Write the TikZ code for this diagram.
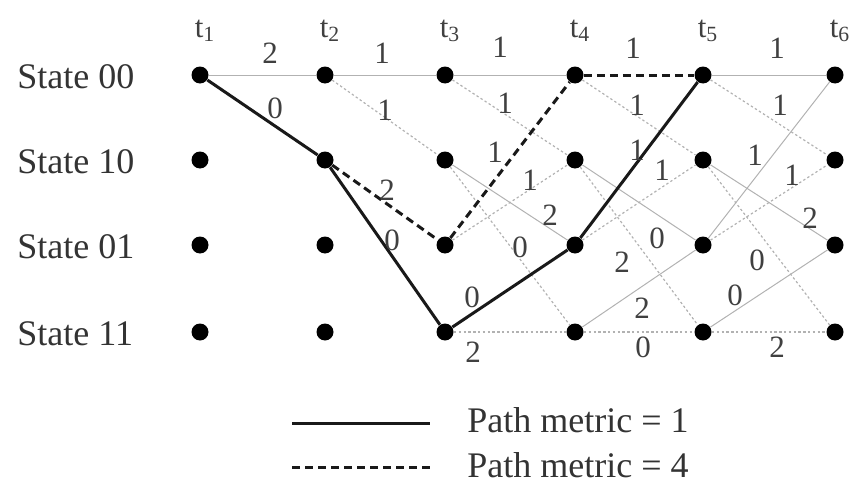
\documentclass[tikz,border=0pt]{standalone}
\usepackage{fontspec}
\setmainfont{Liberation Serif}
\usepackage{tikz}
\usetikzlibrary{positioning}

\begin{document}
\begin{tikzpicture}[
  x=0.5pt, y=-0.5pt,
  dot/.style={circle, fill=black, inner sep=0pt, minimum size=8.5pt},
  st/.style={anchor=west, inner sep=0pt, text=black!80, font=\fontsize{18}{20}\selectfont},
  lbl/.style={inner sep=0pt, text=black!75, font=\fontsize{15.5}{16}\selectfont},
  zero/.style={draw=gray!60, line width=0.5pt},
  one/.style={draw=gray!60, line width=0.6pt, dash pattern=on 1.2pt off 1.2pt},
  best/.style={draw=black!90, line width=1.5pt},
  alt/.style={draw=black!90, line width=1.5pt, dash pattern=on 4pt off 2.5pt}
]
\useasboundingbox (0,0) rectangle (858,482);
% trellis nodes
\foreach \x/\c in {200/1,325/2,445/3,575/4,703/5,835/6} {
  \node[lbl] (t\c) at (\x+5,31) {t\textsubscript{\c}};
  \foreach \y/\s in {75/00,160/10,245/01,332/11}
    \node[dot] (s\s-\c) at (\x,\y) {};
}
\node[st] (st00) at (17,77) {State 00};
\node[st] (st10) at (17,162) {State 10};
\node[st] (st01) at (17,247) {State 01};
\node[st] (st11) at (17,334) {State 11};
% t1 -> t2
\draw[zero] (s00-1) -- (s00-2) node[lbl] at (270,53) {2};
\draw[best] (s00-1) -- (s10-2) node[lbl] at (275,108) {0};
% t2 -> t3
\draw[zero] (s00-2) -- (s00-3) node[lbl] at (382,53) {1};
\draw[one] (s00-2) -- (s10-3) node[lbl] at (385,110) {1};
\draw[alt] (s10-2) -- (s01-3) node[lbl] at (387,190) {2};
\draw[best] (s10-2) -- (s11-3) node[lbl] at (392,240) {0};
% t3 -> t4
\draw[zero] (s00-3) -- (s00-4) node[lbl] at (500,47) {1};
\draw[one] (s00-3) -- (s10-4) node[lbl] at (505,103) {1};
\draw[zero] (s10-3) -- (s01-4) node[lbl] at (550,215) {2};
\draw[one] (s10-3) -- (s11-4) node[lbl] at (520,247) {0};
\draw[one] (s01-3) -- (s10-4) node[lbl] at (530,180) {1};
\draw[alt] (s01-3) -- (s00-4) node[lbl] at (495,152) {1};
\draw[one] (s11-3) -- (s11-4) node[lbl] at (473,352) {2};
\draw[best] (s11-3) -- (s01-4) node[lbl] at (472,297) {0};
% t4 -> t5
\draw[one] (s00-4) -- (s10-5) node[lbl] at (637,105) {1};
\draw[zero] (s10-4) -- (s01-5) node[lbl] at (657,238) {0};
\draw[one] (s10-4) -- (s11-5) node[lbl] at (622,262) {2};
\draw[one] (s01-4) -- (s10-5) node[lbl] at (662,170) {1};
\draw[zero] (s11-4) -- (s01-5) node[lbl] at (642,308) {2};
\draw[one] (s11-4) -- (s11-5) node[lbl] at (643,347) {0};
\draw[alt] (s00-4) -- (s00-5) node[lbl] at (633,48) {1};
\draw[best] (s01-4) -- (s00-5) node[lbl] at (637,150) {1};
% t5 -> t6
\draw[zero] (s00-5) -- (s00-6) node[lbl] at (777,48) {1};
\draw[one] (s00-5) -- (s10-6) node[lbl] at (780,105) {1};
\draw[zero] (s10-5) -- (s01-6) node[lbl] at (810,218) {2};
\draw[one] (s10-5) -- (s11-6) node[lbl] at (757,260) {0};
\draw[zero] (s01-5) -- (s00-6) node[lbl] at (755,155) {1};
\draw[one] (s01-5) -- (s10-6) node[lbl] at (792,175) {1};
\draw[zero] (s11-5) -- (s01-6) node[lbl] at (735,295) {0};
\draw[one] (s11-5) -- (s11-6) node[lbl] at (777,347) {2};
% legend
\node[st] (leg1) at (467,420) {Path metric = 1};
\node[st] (leg2) at (467,465) {Path metric = 4};
\coordinate (l1a) at (292,423);
\coordinate (l1b) at (430,423);
\coordinate (l2a) at (292,467);
\coordinate (l2b) at (430,467);
\draw[best] (l1a) -- (l1b);
\draw[alt] (l2a) -- (l2b);
\end{tikzpicture}
\end{document}
